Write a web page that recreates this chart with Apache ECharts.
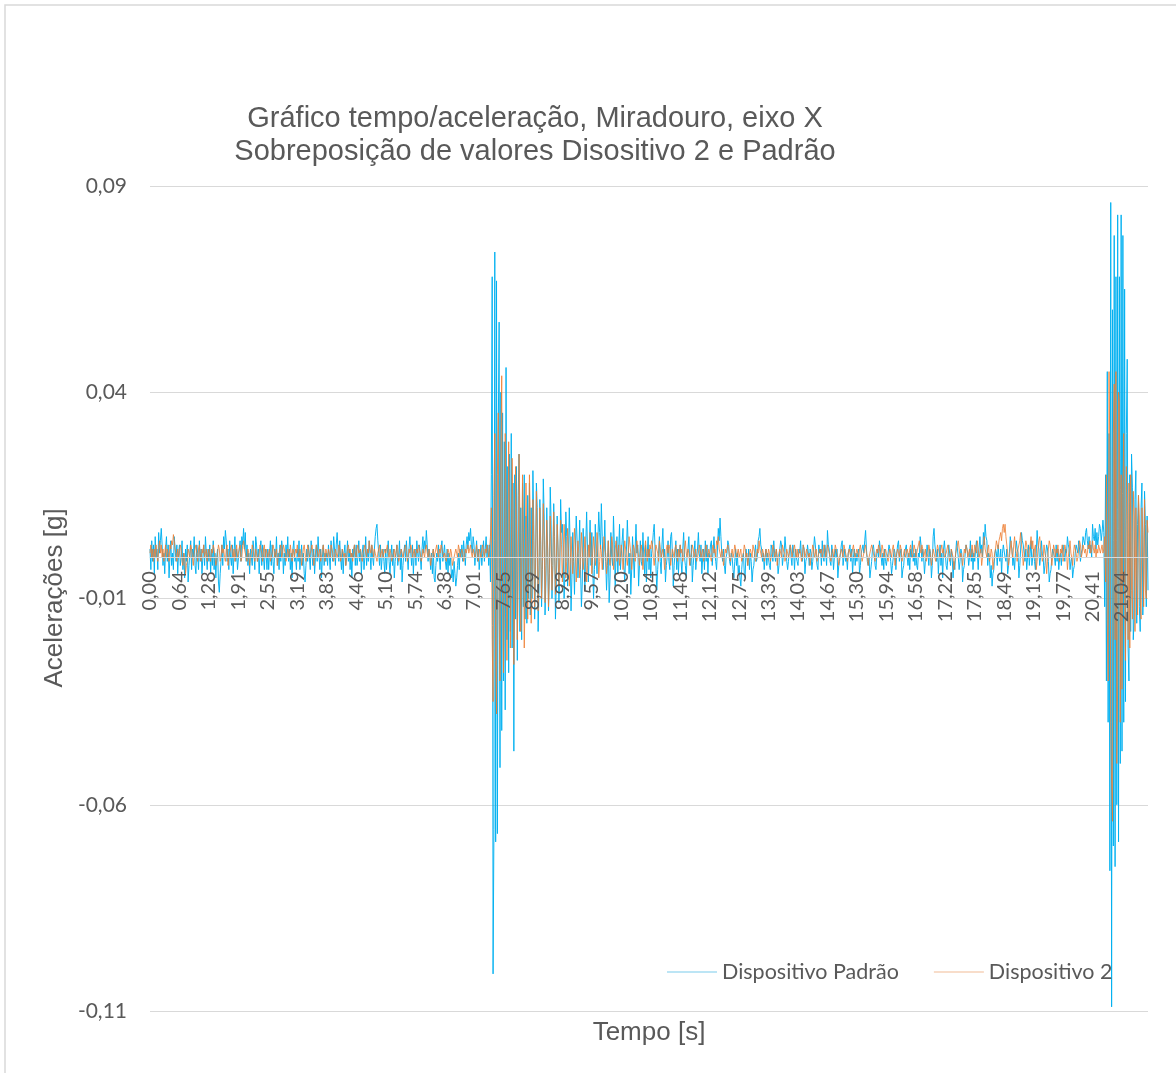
<!DOCTYPE html>
<html>
<head>
<meta charset="utf-8">
<script src="https://cdn.jsdelivr.net/npm/echarts@6/dist/echarts.min.js"></script>
<style>
  html, body { margin: 0; padding: 0; background: #ffffff; }
  #chart { width: 1176px; height: 1073px; }
</style>
</head>
<body>
<div id="chart"></div>
<script>
// Time labels shown on the horizontal axis (one every 34 plotted samples)
const tickLabels = ['0,00','0,64','1,28','1,91','2,55','3,19','3,83','4,46','5,10','5,74','6,38','7,01',
  '7,65','8,29','8,93','9,57','10,20','10,84','11,48','12,12','12,75','13,39','14,03','14,67','15,30',
  '15,94','16,58','17,22','17,85','18,49','19,13','19,77','20,41','21,04'];
const samplesPerTick = 34;

// Acceleration, X axis, reference device — values in mg (one row per label step)
const padrao = [
  2,-3,4,-1,3,-4,5,0,2,-3,6,1,4,7,3,-2,1,-4,2,5,-1,3,-5,0,4,-2,1,-3,5,2,-1,3,-4,1,
  3,-2,0,4,-3,1,-5,2,-1,3,-6,-2,1,4,-3,2,0,5,-2,-4,3,1,-3,4,-1,2,-4,0,3,-2,5,1,-3,2,
  -1,3,-4,2,-2,4,-3,1,-5,0,2,-6,-8.5,-4,-1,3,-2,5,2,6.5,4,-1,2,-3,4,0,-2,3,-4,1,5,-1,2,-3,
  -3,2,4,-1,5,3,7,2,6,-1,3,-2,1,-4,2,0,-2,4,1,-3,5,3,-1,2,-4,1,4,-2,3,0,-3,2,1,-3,
  2,-3,1,4,-2,3,-1,-4,2,0,5,-2,1,-3,3,-1,4,2,-4,1,-2,3,0,5,-1,2,-3,1,-5,2,4,-1,0,-3,
  2,-1,4,-3,0,3,-2,1,-4,-6,-2,2,-1,3,0,-3,4,1,-2,2,-4,0,3,-1,5,1,-3,2,-5,0,3,-2,1,-1,
  1,-2,3,0,-3,4,1,-1,5,2,-2,3,6,2,-1,4,0,-3,2,-4,1,3,-2,0,4,-1,2,-3,1,-5,2,0,3,-2,
  3,-2,0,4,-1,2,-4,1,3,-3,0,5,-2,2,-1,4,1,-3,3,0,-2,2,5,7,8,4,1,-2,3,-3,0,2,-1,-4,
  2,-3,1,4,-1,-4,0,3,-2,2,-5,-1,1,3,-2,0,4,-3,2,-6,-2,1,3,-1,4,0,-3,2,5,1,-2,3,-4,1,
  2,-2,4,1,-1,3,0,-3,2,5,1,4,2,6.5,3,-1,2,0,-3,1,-4,2,-5,-6,-2,1,-1,3,0,-3,2,4,-1,1,
  3,-1,-3,2,-4,1,-2,0,-5,-3,-6,-1,-4,-7,-5,-2,1,-3,2,0,3,-1,4,1,-2,3,5,2,6,4,7,3,1,5,
  3,-2,1,4,-1,2,-3,0,3,-2,1,4,-1,2,5,0,3,-2,3,-6,20,68,-101,-66,74,-69,67,-67,30,57,-51,40,-42,35,
  -30,28,-37,46,-20,22,-28,25,-18,30,-22,18,-47,20,-15,22,-25,15,25,-18,12,-20,18,-12,20,-15,10,-16,15,-10,18,-14,12,-10,
  21,8,-15,-5,18,12,-18,-8,14,4,-12,-3,19,10,-14,-6,12,2,-13,-4,17,9,-10,-2,13,5,-15,-7,10,2,-11,-4,14,6,
  8,1,-10,-4,11,5,-7,0,12,3,-13,-5,6,-1,-9,2,10,4,-5,1,9,-3,-12,-6,7,0,-8,3,11,2,-6,1,9,-2,
  6,-2,-10,-3,8,1,-4,4,11,6,2,13,5,-3,1,9,-1,-8,-2,4,-11,-5,6,0,-2,10,3,-7,1,5,-4,2,8,-3,
  -3,4,7,-2,-6,0,2,9,3,-4,1,-9,-3,5,0,-5,2,8,1,3,-7,-2,4,-1,-2,6,0,-4,3,-6,1,5,-3,2,
  -5,1,3,6,8,2,-2,-8,-3,1,5,-1,-4,3,7,0,2,-6,-2,0,4,-1,-3,5,6,1,-7,-2,1,4,-3,2,-4,1,
  3,-1,-4,2,6,0,-2,-5,1,2,5,-1,-2,3,-6,-2,1,4,-3,0,2,6,1,-1,3,-4,0,2,-3,4,-1,3,-4,1,
  0,3,4,-2,-2,5,1,-1,-3,2,7,4,9.5,5,1,-1,2,-2,-4,0,1,4,3,-1,-2,1,0,-3,-5,-1,2,-2,1,-4,
  -2,-5,-7,-3,0,1,-4,-5,2,0,-2,2,-3,1,-1,-6,-3,-2,1,3,-1,0,4,5,7,3,2,-1,1,-3,0,2,-2,1,
  1,-2,-3,3,2,-1,4,1,-1,2,0,-4,-2,2,4,3,-2,0,1,5,2,-1,-3,-1,2,3,0,-2,3,1,-3,2,0,-1,
  -2,2,1,4,0,-1,3,2,-4,-1,0,3,1,-2,2,1,-3,-1,2,5,3,0,-2,-3,3,1,2,-2,4,0,-1,3,1,-2,
  6.5,3,2,-1,-2,3,1,-3,0,2,0,2,-5,-2,-1,1,3,4,-2,0,2,-1,0,-3,1,1,3,-1,2,-4,0,2,-2,1,
  -1,1,2,-4,-2,1,2,3,1,4,6.5,2,-1,-2,0,-5,-3,-1,2,3,1,-2,-3,1,2,0,4,2,0,-2,1,-3,2,-1,
  -2,0,1,3,2,-1,-4,-2,0,2,1,-3,1,3,4,-1,1,2,-5,-3,-2,1,2,3,0,-2,1,-3,2,0,4,-1,1,-2,
  2,-2,-3,1,0,5,3,-1,2,0,-4,-1,0,3,1,-2,2,1,-5,-2,5,7,3,1,-1,2,-4,0,3,-2,1,-5,2,4,
  1,-2,-3,0,3,1,-2,2,0,-5,-1,-3,1,4,2,0,-3,-1,2,1,-6,-3,-2,1,3,2,1,-2,0,4,-1,2,-3,1,
  -1,2,4,1,-3,2,5,1,3,0,6,3,8,5,4,-2,1,0,-5,-2,-7,-4,-3,0,2,1,-2,3,0,-1,2,-4,1,3,
  3,0,-1,2,-4,-2,1,5,3,2,-2,0,-3,1,4,2,1,-5,-2,2,6,4,3,1,-1,2,-3,0,3,-2,1,4,-2,0,
  2,-1,-3,1,6.5,3,2,-2,0,4,1,0,-4,-2,1,3,2,-1,-6,-4,-3,0,2,1,0,-2,3,-1,2,-3,0,1,-2,2,
  3,1,-1,2,1,5,3,2,-3,-1,0,-5,-3,-2,1,3,2,1,4,2,-1,1,2,5,4,3,6,7,4,2,5,1,3,0,
  8,5,4,7,2,6,3,5,8,7,4,6,9,6,-12,20,-30,45,-40,30,-76,86,-109,60,-70,78,-75,68,-60,83,-69,68,-50,83,
  -47,78,-40,65,-35,30,48,-22,-30,20,-18,25,17,-20,-15,14,21,-16,8,15,-12,-18,12,18,-14,-6,16,8,-12,10,-8
];

// Acceleration, X axis, device 2 — values in mg (one row per label step)
const dispositivo2 = [
  1,3,0,2,-1,2,0,3,1,-1,2,4,1,3,0,2,-1,1,3,0,2,1,-1,3,2,4,3,5.5,4,2,1,-1,2,0,
  1,3,2,-1,-2,1,0,-4,-2,-1,2,1,0,3,2,0,-2,1,2,3,1,-1,2,3,0,-1,2,1,3,0,1,2,-1,1,
  2,0,-1,2,1,3,2,0,-2,-1,1,3,2,-1,0,3,1,2,0,-1,2,3,-2,0,1,2,3,1,0,2,-1,1,3,0,
  1,2,3,-1,0,3,4,2,1,0,-1,2,1,-2,0,1,3,2,0,-1,2,1,-1,0,1,3,2,1,-1,2,3,0,2,1,
  0,1,2,-1,0,1,3,2,0,1,2,-2,0,1,2,3,0,1,3,2,1,-1,0,2,1,0,3,1,-1,2,1,0,2,1,
  3,1,0,2,1,-2,0,2,3,1,-1,0,3,2,0,1,2,3,1,-2,0,1,3,2,0,1,2,-1,0,2,3,1,-1,2,
  1,0,2,1,0,3,2,1,-1,0,2,1,0,1,3,2,-1,0,2,1,0,1,-2,0,2,3,1,2,0,1,-1,2,3,1,
  0,2,3,1,1,2,0,-1,1,2,3,1,0,2,1,4,2,1,3,2,0,2,1,0,-1,1,2,3,0,1,2,0,1,2,
  1,2,3,1,0,2,1,-1,0,1,2,0,1,3,2,-1,0,1,2,1,0,1,2,3,1,-1,0,2,1,3,2,0,1,2,
  0,1,2,1,3,2,1,-1,0,2,1,0,2,3,1,0,2,1,-2,0,1,2,0,1,2,3,1,0,2,1,3,2,1,0,
  1,0,-1,1,2,1,0,2,1,-2,-1,0,1,2,1,0,3,2,0,1,2,1,-1,0,2,1,2,3,1,2,3,1,0,2,
  2,0,1,3,1,-1,2,1,0,2,3,1,0,2,1,3,2,0,2,5,12,-20,-35,15,30,-25,-38,20,35,-15,-30,25,44,-10,
  -28,-12,30,15,-25,-8,28,10,-22,-5,24,12,-26,-10,22,8,-20,-6,25,10,-18,-4,20,6,-22,-8,18,4,-15,-3,20,8,-16,-6,
  14,4,-12,-3,16,6,-13,-2,12,3,-10,-1,13,4,-11,-2,9,2,-12,-4,10,1,-8,-2,11,3,-9,-1,8,2,-7,0,9,3,
  -6,0,8,3,-5,-1,7,2,-7,-2,5,0,-4,1,7,3,-6,0,4,1,-5,-1,6,2,-3,0,5,1,-6,-2,3,0,6,2,
  -4,1,5,2,-2,0,6,3,-5,-1,3,1,-3,0,5,2,1,-4,-1,4,0,-2,1,5,3,-3,0,2,4,-1,1,3,-2,0,
  3,1,-3,0,4,2,0,-2,1,5,3,1,-3,0,3,2,-1,1,4,2,0,-2,1,3,1,-3,0,2,4,1,-1,2,0,3,
  2,4,3,0,-2,1,3,2,1,-1,4,2,0,1,2,0,-3,-1,2,3,1,3,2,-2,0,2,1,0,2,3,1,-1,2,0,
  3,1,2,-1,0,2,4,1,0,2,1,-2,0,1,3,2,0,1,2,-1,0,1,3,2,0,1,2,-1,0,2,3,1,0,2,
  1,0,-1,2,3,1,2,0,4,3,5,2,1,0,2,1,-2,0,2,1,1,3,2,0,-1,1,2,0,1,3,2,0,1,2,
  0,1,2,-1,0,1,3,2,0,1,-2,0,1,2,1,0,3,2,1,-1,0,2,1,4,2,1,0,2,1,-1,0,2,1,0,
  2,1,-1,0,1,3,2,0,1,2,-2,0,1,2,1,0,3,2,1,-1,0,2,1,0,1,3,2,0,1,2,3,1,0,2,
  0,1,2,1,-1,0,3,2,0,1,2,1,0,1,-2,0,1,3,2,0,1,2,-1,0,1,2,1,2,0,1,3,2,0,1,
  3,2,1,0,-1,1,2,0,1,3,2,1,0,-2,0,1,2,1,0,3,2,1,0,-1,1,2,1,0,1,2,3,1,0,1,
  2,1,0,2,3,1,-1,0,1,2,3,1,0,-2,0,1,2,3,2,1,0,-1,1,2,1,3,2,0,1,3,2,0,1,2,
  1,0,-1,1,2,1,0,2,3,1,-2,0,1,2,1,0,3,2,-1,0,1,2,0,1,2,1,0,2,3,1,0,1,3,2,
  0,1,2,3,4,2,1,3,2,0,1,2,-1,0,1,3,2,0,-2,0,2,1,0,-1,1,3,2,1,0,2,3,1,2,0,
  0,1,2,3,1,-1,0,2,1,0,-3,-1,1,2,3,4,2,0,1,0,-2,0,2,1,3,2,0,1,2,0,1,3,1,0,
  3,2,1,4,2,0,1,2,-2,0,3,5,2,1,0,2,3,-1,0,2,1,-3,-1,1,2,4,3,2,4,5,6,4,7,8,
  6,8,5,3,1,-2,0,2,4,1,0,3,5,2,1,-1,2,3,4,6,3,1,-2,0,2,4,3,1,0,2,3,5,2,4,
  0,2,3,-3,-1,2,4,5,2,1,-1,0,3,1,0,-4,-1,2,4,3,1,-2,0,3,2,0,2,1,3,0,-1,2,1,3,
  -1,1,3,2,1,-3,0,2,4,1,0,-2,1,3,2,1,-1,0,2,4,3,0,1,3,2,1,2,0,1,3,2,4,1,2,
  4,2,1,3,0,2,1,3,2,1,2,3,1,2,5,-6,20,-15,-30,45,25,-40,-55,-64,30,42,-20,45,-50,-30,40,38,-40,20,
  -32,15,30,-10,-25,22,8,-20,18,-22,20,-8,-15,16,10,-18,12,-5,-14,15,10,-10,-15,12,6,-12,14,-8,-10,9,6
];

const seriesNames = ['Dispositivo Padrão', 'Dispositivo 2'];
const seriesColors = ['#00B0F0', '#ED7D31'];
const legendColors = ['#A6DCF2', '#F6D2B8'];

// Value-axis limits (g) and plot box
const yMin = -0.11, yMax = 0.09, yStep = 0.05;
const plot = { left: 150, right: 28, top: 186, bottom: 62 };
const plotHeight = 1073 - plot.top - plot.bottom;
// The time axis sits on the zero line; its labels follow it
const zeroOffset = -plotHeight * (0 - yMin) / (yMax - yMin);

const categories = padrao.map((_, i) => String(i));
const toG = v => v / 1000;
const decimalComma = v => v.toFixed(2).replace('.', ',');

const GREY_TEXT = '#595959';
const GRID_LINE = '#D9D9D9';
const TITLE_FONT = '"Liberation Sans", Arial, sans-serif';

const chart = echarts.init(document.getElementById('chart'), null, { renderer: 'canvas' });

chart.setOption({
  animation: false,
  backgroundColor: '#ffffff',
  grid: Object.assign({ containLabel: false }, plot),
  graphic: [
    { type: 'rect', z: -10, silent: true,
      shape: { x: 5, y: 5, width: 1300, height: 1200 },
      style: { fill: 'none', stroke: GRID_LINE, lineWidth: 1.5 } },
    { type: 'text', x: 535, y: 119, silent: true,
      style: { text: 'Gráfico tempo/aceleração, Miradouro, eixo X', fill: GREY_TEXT,
        font: '29px ' + TITLE_FONT, align: 'center', verticalAlign: 'middle' } },
    { type: 'text', x: 535, y: 152, silent: true,
      style: { text: 'Sobreposição de valores Disositivo 2 e Padrão', fill: GREY_TEXT,
        font: '29px ' + TITLE_FONT, align: 'center', verticalAlign: 'middle' } },
    { type: 'text', x: 55, y: 598, rotation: Math.PI / 2, silent: true,
      style: { text: 'Acelerações [g]', fill: GREY_TEXT,
        font: '26px ' + TITLE_FONT, align: 'center', verticalAlign: 'middle' } },
    { type: 'text', x: 649, y: 1033, silent: true,
      style: { text: 'Tempo [s]', fill: GREY_TEXT,
        font: '26px ' + TITLE_FONT, align: 'center', verticalAlign: 'middle' } }
  ],
  legend: {
    orient: 'horizontal',
    left: 667, top: 959, padding: 0, itemGap: 35,
    itemWidth: 50, itemHeight: 1.5,
    icon: 'rect',
    textStyle: { fontFamily: 'Lato', fontSize: 21.5, lineHeight: 26, color: GREY_TEXT },
    data: seriesNames.map((name, k) => ({
      name,
      itemStyle: { color: legendColors[k], opacity: 1 }
    }))
  },
  xAxis: {
    type: 'category',
    data: categories,
    boundaryGap: false,
    offset: zeroOffset,
    z: 10,
    axisLine: { show: true, onZero: false, lineStyle: { color: GRID_LINE, width: 1 } },
    axisTick: { show: false },
    splitLine: { show: false },
    axisLabel: {
      interval: samplesPerTick - 1,
      rotate: 90,
      margin: 14,
      fontFamily: 'Lato', fontSize: 20, color: GREY_TEXT,
      formatter: (v, i) => tickLabels[i / samplesPerTick] ?? ''
    }
  },
  yAxis: {
    type: 'value',
    min: yMin, max: yMax, interval: yStep,
    axisLine: { show: false },
    axisTick: { show: false },
    splitLine: { show: true, lineStyle: { color: GRID_LINE, width: 1 } },
    axisLabel: {
      margin: 23, fontFamily: 'Lato', fontSize: 21, color: GREY_TEXT,
      formatter: v => decimalComma(v)
    }
  },
  series: [padrao, dispositivo2].map((values, k) => ({
    name: seriesNames[k],
    type: 'line',
    data: values.map(toG),
    symbol: 'none',
    showSymbol: false,
    sampling: null,
    color: seriesColors[k],
    lineStyle: { color: seriesColors[k], width: 1, opacity: k === 0 ? 0.95 : 0.8 },
    emphasis: { disabled: true },
    z: 2 + k
  }))
});
</script>
</body>
</html>
